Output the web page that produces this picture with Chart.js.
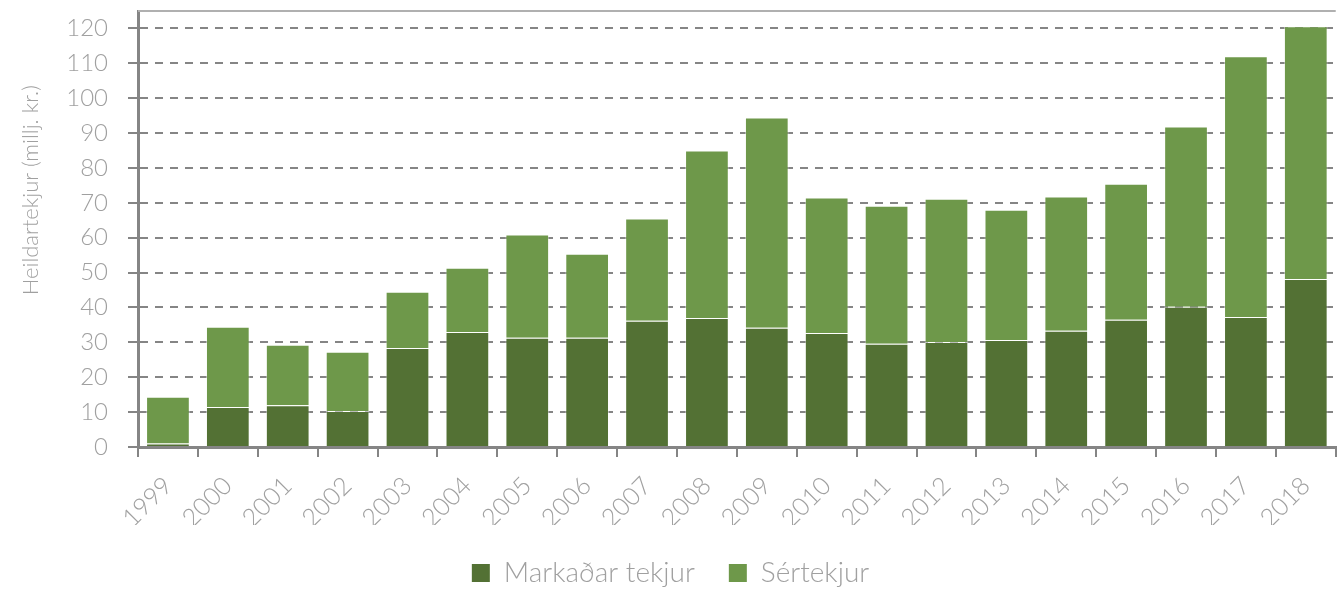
<!DOCTYPE html>
<html>
<head>
<meta charset="utf-8">
<script src="https://cdn.jsdelivr.net/npm/chart.js@4.4.1/dist/chart.umd.min.js"></script>
<style>
  html, body { margin: 0; padding: 0; background: #fff; }
  #wrap { width: 1341px; height: 589px; position: relative; }
</style>
</head>
<body>
<div id="wrap"><canvas id="revChart"></canvas></div>
<script>
// ár og tekjur (millj. kr.)
const years = ["1999", "2000", "2001", "2002", "2003", "2004", "2005", "2006", "2007", "2008",
  "2009", "2010", "2011", "2012", "2013", "2014", "2015", "2016", "2017", "2018"];
const markadarTekjur = [1.0, 11.5, 12.0, 10.3, 28.4, 33.0, 31.3, 31.3, 36.2, 37.0,
  34.2, 32.7, 29.6, 30.1, 30.7, 33.3, 36.5, 40.2, 37.3, 48.2];
const sertekjur = [13.4, 23.0, 17.3, 17.0, 16.1, 18.4, 29.6, 24.1, 29.3, 48.0,
  60.3, 38.8, 39.6, 41.1, 37.3, 38.5, 39.0, 51.7, 74.7, 72.4];
const yTicks = [0, 10, 20, 30, 40, 50, 60, 70, 80, 90, 100, 110, 120];

const FONT = "Lato, 'Open Sans', sans-serif";
const GRAY = "#858585";
const TEXT = "#a0a0a0";

// lína efst á teiknisvæðinu
const topLine = {
  id: "topLine",
  afterDraw(chart) {
    const { ctx, chartArea } = chart;
    ctx.save();
    ctx.strokeStyle = "#b0b0b0";
    ctx.lineWidth = 2;
    ctx.beginPath();
    ctx.moveTo(chartArea.left, chartArea.top);
    ctx.lineTo(chartArea.right, chartArea.top);
    ctx.stroke();
    ctx.restore();
  }
};

new Chart(document.getElementById("revChart"), {
  type: "bar",
  data: {
    labels: years,
    datasets: [
      {
        label: "Markaðar tekjur",
        data: markadarTekjur,
        backgroundColor: "#537134",
        borderColor: "rgba(255,255,255,0.45)",
        borderWidth: 1
      },
      {
        label: "Sértekjur",
        data: sertekjur,
        backgroundColor: "#6e984a",
        borderColor: "rgba(255,255,255,0.45)",
        borderWidth: 1
      }
    ]
  },
  options: {
    responsive: true,
    maintainAspectRatio: false,
    animation: false,
    layout: { padding: { top: 11, right: 0, left: 0, bottom: -8 } },
    datasets: { bar: { categoryPercentage: 1, barPercentage: 0.73 } },
    plugins: {
      tooltip: { enabled: false },
      legend: {
        position: "bottom",
        labels: {
          font: { family: FONT, size: 28, weight: 300 },
          color: TEXT,
          boxWidth: 18,
          boxHeight: 18,
          padding: 34,
          generateLabels(chart) {
            return chart.data.datasets.map((ds, i) => ({
              text: ds.label,
              fillStyle: ds.backgroundColor,
              strokeStyle: ds.backgroundColor,
              lineWidth: 0,
              fontColor: TEXT,
              datasetIndex: i
            }));
          }
        }
      }
    },
    scales: {
      x: {
        stacked: true,
        offset: true,
        grid: {
          offset: true,
          drawOnChartArea: false,
          drawTicks: true,
          tickLength: 10,
          color: GRAY,
          lineWidth: 2
        },
        border: { color: GRAY, width: 3 },
        ticks: {
          font: { family: FONT, size: 25, weight: 300 },
          color: TEXT,
          maxRotation: 45,
          minRotation: 45,
          padding: 14,
          autoSkip: false
        },
        afterFit(scale) { scale.height = 78; }
      },
      y: {
        stacked: true,
        min: 0,
        max: 125,
        afterBuildTicks(scale) {
          scale.ticks = yTicks.map(v => ({ value: v }));
        },
        grid: {
          color: GRAY,
          lineWidth: 2,
          tickLength: 10,
          tickBorderDash: []
        },
        border: { color: GRAY, width: 3, dash: [8, 7] },
        ticks: {
          font: { family: FONT, size: 24, weight: 300 },
          color: TEXT,
          padding: 20
        },
        title: {
          display: true,
          // bil í byrjun færa titilinn ofar eins og á myndinni
          text: "\u00a0".repeat(13) + "Heildartekjur (millj. kr.)",
          font: { family: FONT, size: 22, weight: 300 },
          color: TEXT,
          padding: { top: 18, bottom: 0 }
        },
        afterFit(scale) {
          scale.width = 138;
          scale.paddingTop = 0;
          scale.paddingBottom = 0;
        }
      }
    }
  },
  plugins: [topLine]
});
</script>
</body>
</html>
